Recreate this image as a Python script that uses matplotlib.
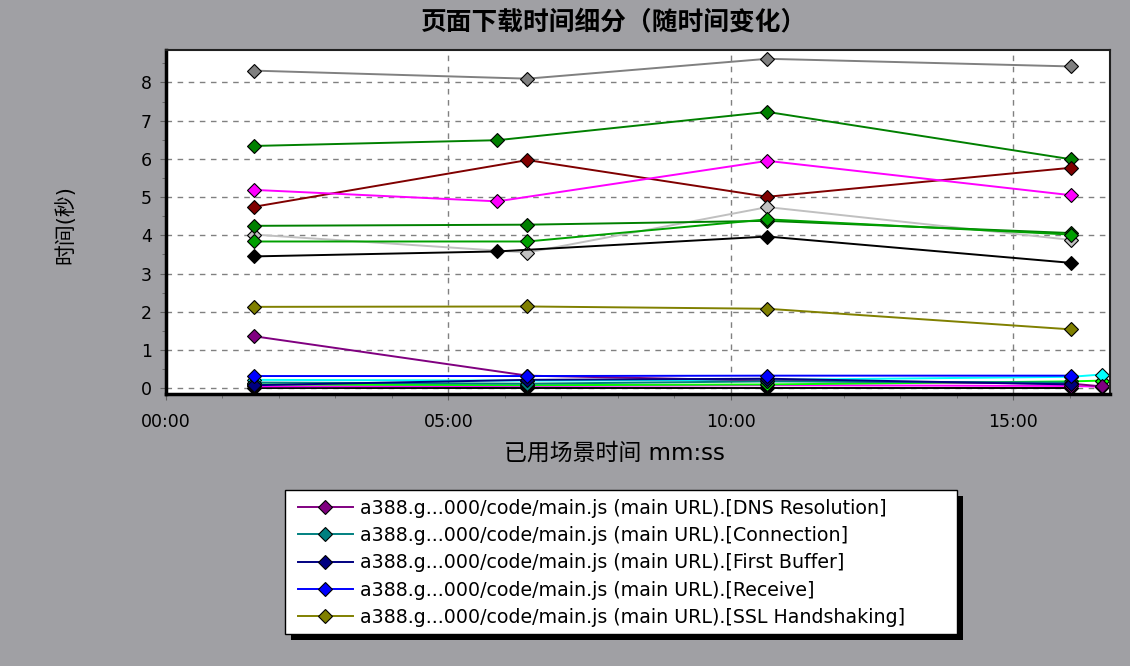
import matplotlib
matplotlib.use("Agg")
import matplotlib.pyplot as plt
import matplotlib.patheffects as pe
from matplotlib.patches import Rectangle
from matplotlib.ticker import MultipleLocator, FuncFormatter

plt.rcParams['font.family'] = ['DejaVu Sans', 'Noto Sans CJK SC']

# elapsed scenario time, seconds
t_a = [94, 384, 639, 962]
t_b = [94, 352, 639, 962]
t_c = [94, 384, 639, 962, 994]

# legend series
dns = [1.36, 0.33, 0.20, 0.12, 0.05]
connection = [0.15, 0.12, 0.18, 0.15]
first_buffer = [0.08, 0.22, 0.25, 0.10]
receive = [0.32, 0.32, 0.33, 0.33]
ssl = [2.13, 2.14, 2.08, 1.54]

# other components
gray_vals = [8.31, 8.10, 8.62, 8.42]
green_top = [6.34, 6.49, 7.23, 5.99]
maroon_vals = [4.75, 5.97, 5.01, 5.77]
magenta_vals = [5.19, 4.89, 5.95, 5.05]
green_mid1 = [4.25, 4.28, 4.38, 4.06]
green_mid2 = [3.84, 3.84, 4.42, 4.02]
silver_vals = [4.02, 3.55, 4.74, 3.88]
black_vals = [3.45, 3.58, 3.97, 3.28]
cyan_vals = [0.22, 0.20, 0.22, 0.30, 0.36]
lime_vals = [0.10, 0.08, 0.10, 0.18, 0.20]
black_low = [0.02, 0.02, 0.02, 0.02]
magenta_low = [0.05, 0.06, 0.08, 0.06, 0.04]

legend_labels = [
    "a388.g...000/code/main.js (main URL).[DNS Resolution]",
    "a388.g...000/code/main.js (main URL).[Connection]",
    "a388.g...000/code/main.js (main URL).[First Buffer]",
    "a388.g...000/code/main.js (main URL).[Receive]",
    "a388.g...000/code/main.js (main URL).[SSL Handshaking]",
]

W, H = 1130, 666
bg = '#a0a0a4'
fig = plt.figure(figsize=(11.3, 6.66), dpi=100, facecolor=bg)
ax = fig.add_axes([166/W, 1-394/H, (1110-166)/W, (394-50)/H])
ax.set_facecolor('white')

mk = dict(marker='D', markersize=7, markeredgecolor='black', markeredgewidth=0.8, linewidth=1.4)

# background series (no legend)
ax.plot(t_a, gray_vals, color='#808080', **mk)
ax.plot(t_b, green_top, color='#008000', **mk)
ax.plot(t_a, maroon_vals, color='#800000', **mk)
ax.plot(t_b, magenta_vals, color='#ff00ff', **mk)
ax.plot(t_a, silver_vals, color='#c0c0c0', **mk)
ax.plot(t_a, green_mid1, color='#008000', **mk)
ax.plot(t_a, green_mid2, color='#00a000', **mk)
ax.plot(t_b, black_vals, color='black', **mk)
ax.plot(t_a, black_low, color='black', **mk)
ax.plot(t_c, magenta_low, color='#ff00ff', **mk)
ax.plot(t_c, lime_vals, color='#00ff00', **mk)
ax.plot(t_c, cyan_vals, color='#00ffff', **mk)

h1, = ax.plot(t_c, dns, color='#800080', **mk)
h2, = ax.plot(t_a, connection, color='#008080', **mk)
h3, = ax.plot(t_a, first_buffer, color='#000080', **mk)
h4, = ax.plot(t_a, receive, color='#0000ff', **mk)
h5, = ax.plot(t_a, ssl, color='#808000', **mk)

ax.set_xlim(0, 1003)
ax.set_ylim(-0.15, 8.85)
ax.xaxis.set_major_locator(MultipleLocator(300))
ax.xaxis.set_minor_locator(MultipleLocator(60))
ax.xaxis.set_major_formatter(FuncFormatter(lambda v, p: "%02d:%02d" % (int(v) // 60, int(v) % 60)))
ax.yaxis.set_major_locator(MultipleLocator(1))
ax.yaxis.set_minor_locator(MultipleLocator(0.5))
ax.grid(True, which='major', linestyle=(0, (4, 4)), color='#808080', linewidth=1)
ax.tick_params(axis='both', which='major', labelsize=12.5, length=4, color='#606060')
ax.tick_params(axis='x', which='major', pad=10)
ax.tick_params(axis='y', which='major', pad=6)
ax.tick_params(axis='both', which='minor', length=3, color='#606060')

for side in ['left', 'bottom']:
    ax.spines[side].set_linewidth(2.5)
    ax.spines[side].set_color('black')
for side in ['top', 'right']:
    ax.spines[side].set_linewidth(1.5)
    ax.spines[side].set_color('#202020')

ax.set_xlabel("已用场景时间 mm:ss", fontsize=16.5, va='center')
ax.xaxis.set_label_coords((614-166)/944, (394-453)/344)
ax.set_ylabel("时间(秒)", fontsize=15, va='center')
ax.yaxis.set_label_coords((65-166)/944, (394-225)/344)

fig.text(614/W, 1-22/H, "页面下载时间细分（随时间变化）", ha='center', va='center',
         fontsize=18.5, fontweight='bold')

# legend box with hard shadow
box = Rectangle((285/W, 1-634/H), (957-285)/W, (634-490)/H, transform=fig.transFigure,
                facecolor='white', edgecolor='black', linewidth=1, zorder=1)
box.set_path_effects([pe.SimplePatchShadow(offset=(4, -4), shadow_rgbFace='black', alpha=1.0),
                      pe.Normal()])
fig.patches.append(box)

leg = fig.legend([h1, h2, h3, h4, h5], legend_labels, loc='upper left',
                 bbox_to_anchor=(290/W, 1-491/H), borderaxespad=0, fontsize=13.7,
                 frameon=False, handlelength=2.9, handletextpad=0.4, labelspacing=0.44,
                 borderpad=0.4, numpoints=1)

fig.savefig("out.png", dpi=100, facecolor=bg)
